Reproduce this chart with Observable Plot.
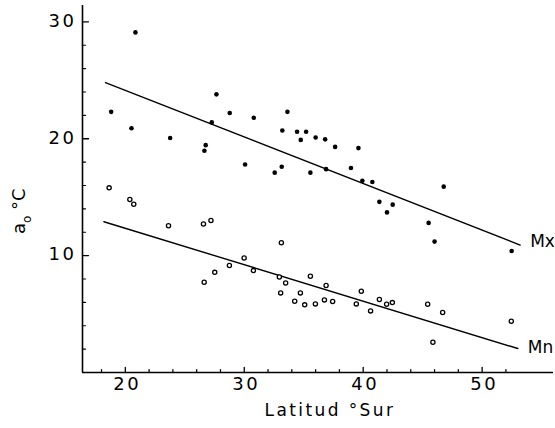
<!DOCTYPE html>
<html>
<head>
<meta charset="utf-8">
<script src="https://cdn.jsdelivr.net/npm/d3@7"></script>
<script src="https://cdn.jsdelivr.net/npm/@observablehq/plot@0.6"></script>
<style>
  html, body { margin: 0; padding: 0; background: #fff; }
  #chart { position: relative; width: 555px; height: 428px; }
</style>
</head>
<body>
<div id="chart"></div>
<script>
// ---- Data ----
// Maximum series (filled dots): latitude (°S) and value (°C)
const mxLat = [20.85, 18.81, 20.52, 23.77, 27.66, 28.78, 30.8, 33.63, 27.27, 26.76, 26.65,
  33.2, 34.44, 35.2, 34.75, 36.0, 36.8, 37.64, 39.6, 30.07, 33.15, 32.56, 35.56, 36.88,
  38.97, 39.93, 40.77, 41.36, 42.48, 42.0, 46.77, 45.5, 46.0, 52.48];
const mxVal = [29.1, 22.3, 20.9, 20.06, 23.8, 22.2, 21.8, 22.3, 21.4, 19.45, 18.97,
  20.7, 20.6, 20.6, 19.9, 20.1, 19.95, 19.3, 19.2, 17.8, 17.6, 17.1, 17.1, 17.4,
  17.5, 16.4, 16.3, 14.6, 14.36, 13.7, 15.9, 12.8, 11.2, 10.4];
// Minimum series (open circles)
const mnLat = [18.64, 20.38, 20.71, 23.63, 26.57, 27.2, 33.12, 29.99, 28.75, 27.52, 30.77,
  26.63, 32.95, 33.48, 35.56, 36.88, 33.06, 34.72, 34.24, 35.08, 35.98, 36.74, 37.43,
  39.42, 39.84, 40.62, 41.36, 41.97, 42.45, 45.42, 46.68, 45.86, 52.45];
const mnVal = [15.8, 14.8, 14.4, 12.56, 12.7, 13.0, 11.1, 9.8, 9.15, 8.57, 8.72,
  7.72, 8.17, 7.66, 8.23, 7.44, 6.81, 6.81, 6.1, 5.79, 5.87, 6.21, 6.07,
  5.87, 6.95, 5.27, 6.24, 5.84, 5.98, 5.84, 5.13, 2.59, 4.38];
// Regression lines (end points)
const mxLineLat = [18.33, 53.2];
const mxLineVal = [24.8, 10.9];
const mnLineLat = [18.2, 53.0];
const mnLineVal = [12.9, 2.05];
const lineNames = ["Mx", "Mn"];

// Axes
const xDomain = [16.4, 56];
const yDomain = [0, 31.4];
const xMinorTicks = [18, 22, 24, 26, 28, 32, 34, 36, 38, 42, 44, 46, 48, 52];
const xMajorTicks = [20, 30, 40, 50];
const yMinorTicks = [2, 4, 6, 8, 12, 14, 16, 18, 22, 24, 26, 28];
const yMajorTicks = [10, 20, 30];
const xTitle = "Latitud °Sur";
const yTitleMain = "a";
const yTitleSub = "o";
const yTitleRest = " °C";

const tickShape = {
  draw(context, l) { context.moveTo(0, 0); context.lineTo(0, -l); }
};

const font = "DejaVu Sans";

const plot = Plot.plot({
  width: 555,
  height: 428,
  marginLeft: 82,
  marginRight: 2,
  marginTop: 5,
  marginBottom: 56,
  x: { domain: xDomain, axis: null },
  y: { domain: yDomain, axis: null },
  style: { fontFamily: font, background: "#fff", color: "#000", overflow: "visible" },
  marks: [
    // axis lines
    Plot.ruleY([yDomain[0]], { stroke: "#000", strokeWidth: 1.6 }),
    Plot.ruleX([xDomain[0]], { stroke: "#000", strokeWidth: 1.6 }),
    // ticks (inward)
    Plot.vector(xMinorTicks, { x: d => d, frameAnchor: "bottom", anchor: "start", rotate: 0, length: 3, shape: tickShape, stroke: "#000", strokeWidth: 1.2 }),
    Plot.vector(xMajorTicks, { x: d => d, frameAnchor: "bottom", anchor: "start", rotate: 0, length: 5, shape: tickShape, stroke: "#000", strokeWidth: 1.3 }),
    Plot.vector(yMinorTicks, { y: d => d, frameAnchor: "left", anchor: "start", rotate: 90, length: 3, shape: tickShape, stroke: "#000", strokeWidth: 1.2 }),
    Plot.vector(yMajorTicks, { y: d => d, frameAnchor: "left", anchor: "start", rotate: 90, length: 6, shape: tickShape, stroke: "#000", strokeWidth: 1.3 }),
    // tick labels
    Plot.text(xMajorTicks, { x: d => d, frameAnchor: "bottom", dx: 2, dy: 17, text: d => String(d), fontSize: 18, fill: "#000", ariaDescription: "xticklabels" }),
    Plot.text(yMajorTicks, { y: d => d, frameAnchor: "left", dx: -6, dy: -1, textAnchor: "end", text: d => String(d), fontSize: 18, fill: "#000", ariaDescription: "yticklabels" }),
    // x title
    Plot.text([xTitle], { frameAnchor: "bottom", dx: 12, dy: 43, text: d => d, fontSize: 17, fill: "#000", ariaDescription: "xtitle" }),
    // regression lines
    Plot.line(mxLineLat, { x: mxLineLat, y: mxLineVal, stroke: "#000", strokeWidth: 1.4 }),
    Plot.line(mnLineLat, { x: mnLineLat, y: mnLineVal, stroke: "#000", strokeWidth: 1.4 }),
    // line labels
    Plot.text([lineNames[0]], { x: [mxLineLat[1]], y: [mxLineVal[1]], text: d => d, dx: 10, dy: -4, textAnchor: "start", fontSize: 17, fill: "#000" }),
    Plot.text([lineNames[1]], { x: [mnLineLat[1]], y: [mnLineVal[1]], text: d => d, dx: 10, dy: -1, textAnchor: "start", fontSize: 17, fill: "#000" }),
    // points
    Plot.dot(mxLat, { x: mxLat, y: mxVal, r: 2.3, fill: "#000", stroke: "none" }),
    Plot.dot(mnLat, { x: mnLat, y: mnVal, r: 2.1, fill: "#fff", stroke: "#000", strokeWidth: 1.3 })
  ]
});

const svg = d3.select(plot);
svg.selectAll('g[aria-description="xticklabels"] text').style("letter-spacing", "2.5px");
svg.selectAll('g[aria-description="yticklabels"] text').style("letter-spacing", "2.5px");
svg.selectAll('g[aria-description="xtitle"] text').style("letter-spacing", "2.4px");

// y title: a with subscript o, then °C (rotated)
const yt = svg.append("text")
  .attr("transform", "translate(25,234) rotate(-90)")
  .attr("text-anchor", "start")
  .attr("font-family", font)
  .attr("font-size", 18)
  .attr("fill", "#000");
yt.append("tspan").text(yTitleMain);
yt.append("tspan").attr("font-size", 12).attr("dy", 6).text(yTitleSub);
yt.append("tspan").attr("dy", -6).text(yTitleRest);

document.getElementById("chart").appendChild(plot);
</script>
</body>
</html>
